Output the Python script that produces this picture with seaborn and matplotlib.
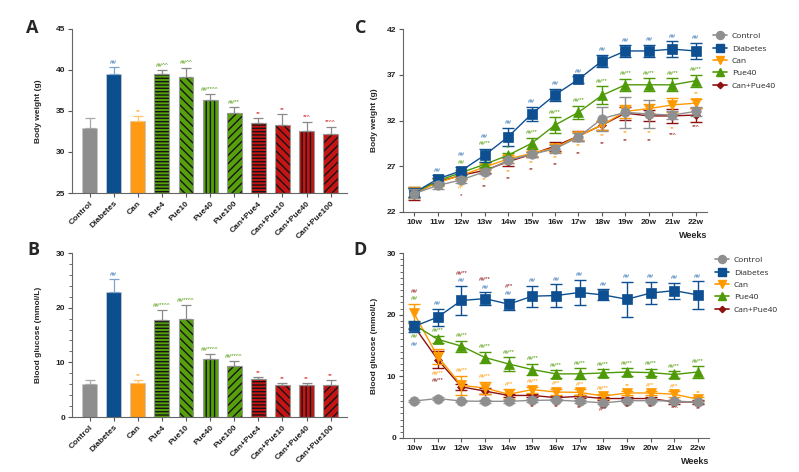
import numpy as np
import pandas as pd
import matplotlib
matplotlib.use("Agg")
import matplotlib.pyplot as plt
from matplotlib.lines import Line2D
from matplotlib.patches import Rectangle
from matplotlib.ticker import MultipleLocator
import seaborn as sns

# ===== Data =====
groups = ['Control', 'Diabetes', 'Can', 'Pue4', 'Pue10', 'Pue40', 'Pue100',
          'Can+Pue4', 'Can+Pue10', 'Can+Pue40', 'Can+Pue100']
weight_mean = [32.9, 39.5, 33.8, 39.5, 39.1, 36.3, 34.7, 33.5, 33.3, 32.6, 32.2]
weight_err = [1.2, 0.9, 0.6, 0.5, 1.2, 0.8, 0.8, 0.6, 1.3, 1.1, 0.8]
weight_sig = ['', '##', '**', '##^^', '##^^', '##**^^', '##**', '**', '**', '**^', '**^^']
glucose_mean = [6.0, 22.9, 6.2, 17.7, 17.9, 10.7, 9.3, 6.9, 5.8, 5.8, 5.8]
glucose_err = [0.8, 2.4, 0.6, 1.9, 2.5, 0.9, 0.9, 0.4, 0.4, 0.4, 1.0]
glucose_sig = ['', '##', '**', '##**^^', '##**^^', '##**^^', '##**^^', '**', '**', '**', '**']

weeks = ['10w', '11w', '12w', '13w', '14w', '15w', '16w', '17w', '18w', '19w', '20w', '21w', '22w']
series = ['Control', 'Diabetes', 'Can', 'Pue40', 'Can+Pue40']

# body weight (g) per week
bw_control = [24.0, 24.9, 25.5, 26.4, 27.65, 28.3, 28.9, 30.2, 32.2, 32.9, 32.7, 32.6, 33.0]
bw_control_err = [0.5, 0.4, 0.3, 0.3, 0.3, 0.3, 0.4, 0.4, 1.3, 1.7, 1.5, 0.4, 0.5]
bw_diabetes = [24.1, 25.6, 26.5, 28.2, 30.2, 32.7, 34.8, 36.5, 38.5, 39.6, 39.6, 39.8, 39.6]
bw_diabetes_err = [0.5, 0.4, 0.4, 0.7, 1.0, 0.8, 0.65, 0.35, 0.7, 0.65, 0.7, 0.85, 0.9]
bw_can = [24.1, 25.2, 26.0, 26.9, 27.8, 28.4, 29.0, 30.3, 31.5, 33.0, 33.3, 33.7, 33.9]
bw_can_err = [0.6, 0.4, 0.4, 0.3, 0.4, 0.3, 0.4, 0.4, 0.5, 0.7, 0.5, 0.8, 0.5]
bw_pue40 = [24.1, 25.4, 26.3, 27.2, 28.2, 29.5, 31.5, 32.9, 34.75, 35.9, 35.9, 35.9, 36.35]
bw_pue40_err = [0.5, 0.3, 0.3, 0.3, 0.3, 0.6, 0.85, 0.7, 1.0, 0.65, 0.7, 0.7, 0.65]
bw_canpue = [24.0, 25.3, 26.0, 26.55, 27.5, 28.3, 29.2, 30.3, 31.5, 32.8, 32.5, 32.5, 32.6]
bw_canpue_err = [0.7, 0.4, 0.4, 0.3, 0.5, 0.3, 0.5, 0.5, 0.5, 0.7, 0.6, 0.8, 0.8]

bw_diabetes_up = [''] + ['##'] * 12
bw_pue40_up = ['', '', '##', '##**', '**', '##**', '##**', '##**', '##**', '##**', '##**', '##**', '##**']
bw_can_up = [''] * 12 + ['**']
bw_can_dn = ['', '', '#*', '**', '**', '**', '**', '**', '**', '**', '**', '**', '']
bw_canpue_dn = ['', '', '*', '**', '**', '**', '**', '**', '**', '**', '**', '**^', '**^']

# blood glucose (mmol/L) per week
bg_control = [6.0, 6.4, 6.0, 5.95, 5.95, 6.1, 6.15, 5.95, 5.7, 6.05, 6.05, 6.0, 5.8]
bg_control_err = [0.2] * 13
bg_diabetes = [18.1, 19.6, 22.3, 22.6, 21.7, 23.0, 23.1, 23.6, 23.2, 22.5, 23.5, 23.9, 23.2]
bg_diabetes_err = [0.85, 1.4, 2.4, 1.0, 0.9, 1.7, 1.8, 2.1, 0.9, 2.8, 1.8, 1.3, 2.2]
bg_can = [20.2, 13.2, 8.55, 8.1, 7.1, 7.85, 7.45, 7.4, 6.8, 7.3, 7.3, 7.1, 6.3]
bg_can_err = [1.55, 1.2, 1.55, 1.0, 0.8, 0.5, 0.5, 0.5, 0.4, 0.4, 0.4, 0.5, 0.3]
bg_pue40 = [18.35, 16.0, 14.9, 13.05, 12.0, 11.1, 10.4, 10.4, 10.55, 10.7, 10.6, 10.3, 10.7]
bg_pue40_err = [0.5, 0.6, 0.9, 0.95, 1.1, 0.95, 0.6, 0.9, 0.6, 0.6, 0.6, 0.5, 0.9]
bg_canpue = [18.1, 12.7, 8.3, 7.6, 6.9, 6.9, 6.55, 6.75, 6.4, 6.4, 6.4, 5.85, 5.85]
bg_canpue_err = [0.5, 1.35, 0.5, 0.5, 0.3, 0.3, 0.3, 0.3, 0.3, 0.3, 0.3, 0.3, 0.3]

bg_diabetes_up = [''] + ['##'] * 12
bg_diabetes_dn = ['##'] + [''] * 12
bg_pue40_up = ['##'] + ['##**'] * 12
bg_pue40_dn = ['##'] + [''] * 12
bg_can_up = ['', '', '##**', '##**', '#**', '##**', '#**', '#**', '##**', '**', '#**', '#**', '**']
bg_can_dn = ['', '##**'] + [''] * 11
bg_canpue_up = ['##', '', '##**', '##**', '#**'] + [''] * 8
bg_canpue_dn = ['', '##**', '', '', '', '**', '**', '**', '#**', '**', '**', '**^', '**']

# ===== Style =====
W, H, DPI = 7.99, 4.72, 100
sns.set_style("ticks")
plt.rcParams['font.family'] = ['Liberation Sans', 'DejaVu Sans']
plt.rcParams['hatch.linewidth'] = 1.0

GRAY, BLUE, ORANGE, GREEN, RED = '#8e8e8e', '#0b4f8f', '#ff9a12', '#56a00c', '#c41414'
DARKRED = '#8e1010'
bar_colors = [GRAY, BLUE, ORANGE] + [GREEN] * 4 + [RED] * 4
sig_colors = [GRAY, '#2a6db0', ORANGE] + ['#4e9a06'] * 4 + ['#d01a1a'] * 4
err_colors = ['#a8a8a8', '#7da6cc', '#ffc36a'] + ['#8a8a8a'] * 8
hatches = [None, None, None, '-----', '\\\\\\\\', '||||', '////',
           '-----', '\\\\\\\\', '||||', '////']
line_colors = {'Control': '#8f8f8f', 'Diabetes': '#0d4f91', 'Can': '#ff9900',
               'Pue40': '#4e9a06', 'Can+Pue40': DARKRED}
line_markers = {'Control': 'o', 'Diabetes': 's', 'Can': 'v', 'Pue40': '^', 'Can+Pue40': 'D'}
marker_sizes = {'Control': 6.8, 'Diabetes': 6.5, 'Can': 6.8, 'Pue40': 6.8, 'Can+Pue40': 3.8}
line_z = {'Control': 6, 'Diabetes': 5, 'Can': 3, 'Pue40': 4, 'Can+Pue40': 2}
stack_rank = ['Control', 'Can', 'Pue40', 'Diabetes', 'Can+Pue40']


def style_axes(ax):
    sns.despine(ax=ax)
    for sp in ['left', 'bottom']:
        ax.spines[sp].set_color('#666666')
        ax.spines[sp].set_linewidth(0.8)
    ax.tick_params(axis='both', which='major', length=3, width=0.8, color='#555555',
                   labelsize=6, pad=2)
    ax.tick_params(axis='y', which='minor', length=2, width=0.6, color='#555555')
    for lab in ax.get_xticklabels() + ax.get_yticklabels():
        lab.set_fontweight('bold')
        lab.set_color('#222222')


def bar_panel(ax, mean, err, sig, ylim, major, minor, ylabel):
    df = pd.DataFrame({'Group': groups, 'Value': mean})
    sns.barplot(data=df, x='Group', y='Value', hue='Group', palette=bar_colors,
                width=0.62, legend=False, ax=ax, linewidth=0.8, saturation=1)
    for p, g, h in zip(ax.patches, groups, hatches):
        if h:
            p.set_edgecolor('#151515')
            p.set_hatch(h)
            p.set_linewidth(0)
            ax.add_patch(Rectangle(p.get_xy(), p.get_width(), p.get_height(),
                                   fill=False, ec='#9a9a9a', lw=0.8, zorder=p.get_zorder()))
        else:
            p.set_edgecolor('#c8c8c8')
            p.set_linewidth(0.6)
    x = np.arange(len(groups))
    for i in x:
        ax.errorbar(i, mean[i], yerr=[[0], [err[i]]], fmt='none', ecolor=err_colors[i],
                    elinewidth=0.9, capsize=3.5, capthick=0.9, zorder=1)
        if sig[i]:
            ax.annotate(sig[i], (i, mean[i] + err[i]), xytext=(0, 1.5), textcoords='offset points',
                        ha='center', va='bottom', fontsize=4.5, color=sig_colors[i])
    ax.set_xlim(-0.73, 10.68)
    ax.set_ylim(*ylim)
    ax.set_yticks(np.arange(ylim[0], ylim[1] + 1e-9, major))
    if minor:
        ax.yaxis.set_minor_locator(MultipleLocator(minor))
    ax.set_xlabel('')
    ax.set_ylabel(ylabel, fontsize=6, fontweight='bold', labelpad=10)
    style_axes(ax)
    plt.setp(ax.get_xticklabels(), rotation=45, ha='right', rotation_mode='anchor')


def line_panel(ax, vals, errs, ups, downs, ylim, major, minor, ylabel):
    x = np.arange(len(weeks))
    long = pd.DataFrame([(xi, s, v) for s in series for xi, v in zip(x, vals[s])],
                        columns=['Week', 'Group', 'Value'])
    sns.lineplot(data=long, x='Week', y='Value', hue='Group', style='Group',
                 hue_order=series, style_order=series, palette=line_colors,
                 markers=line_markers, dashes=False, linewidth=1.0, legend=False, ax=ax)
    for line, s in zip(ax.lines[:len(series)], series):
        line.set_markersize(marker_sizes[s])
        line.set_markeredgecolor(line_colors[s])
        line.set_markeredgewidth(0.5)
        line.set_zorder(line_z[s])
    for s in series:
        ax.errorbar(x, vals[s], yerr=errs[s], fmt='none', ecolor=line_colors[s],
                    elinewidth=1.0, capsize=4.5, capthick=1.0, zorder=line_z[s] - 0.5)
    ax.set_xlim(-0.47, 12.47)
    ax.set_ylim(*ylim)
    ax.set_xticks(x)
    ax.set_xticklabels(weeks)
    ax.set_yticks(np.arange(ylim[0], ylim[1] + 1e-9, major))
    if minor:
        ax.yaxis.set_minor_locator(MultipleLocator(minor))
    ax.set_xlabel('Weeks', fontsize=6.5, fontweight='bold', loc='right', labelpad=4)
    ax.set_ylabel(ylabel, fontsize=6, fontweight='bold', labelpad=6)
    style_axes(ax)

    # significance marks, stacked away from the curves
    upp = (ylim[1] - ylim[0]) / (ax.get_position().height * H * DPI)
    gap, step, window = 2.5 * upp, 7.5 * upp, 12 * upp
    for i in x:
        for sign, table in [(1, ups), (-1, downs)]:
            items = [s for s in stack_rank if s in table and table[s][i]]
            running = None
            for s in items:
                v = vals[s][i]
                near = [t for t in series if abs(vals[t][i] - v) <= window]
                if sign > 0:
                    anchor = max(vals[t][i] + errs[t][i] for t in near) + gap
                    pos = anchor if running is None else max(anchor, running + step)
                else:
                    anchor = min(vals[t][i] - errs[t][i] for t in near) - gap
                    pos = anchor if running is None else min(anchor, running - step)
                running = pos
                col = line_colors[s] if s != 'Diabetes' else '#2a6db0'
                ax.text(i, pos, table[s][i], ha='center', va='bottom' if sign > 0 else 'top',
                        fontsize=4.5, color=col, zorder=8)

    handles = [Line2D([], [], color=line_colors[s], marker=line_markers[s],
                      markersize=marker_sizes[s] * 0.85, lw=1.2) for s in series]
    ax.legend(handles, series, loc='upper left', bbox_to_anchor=(1.01, 1.0), frameon=False,
              prop={'family': 'Open Sans', 'size': 6}, handlelength=1.6, handletextpad=0.6,
              labelspacing=0.55, borderaxespad=0)


# ===== Figure =====
fig = plt.figure(figsize=(W, H), dpi=DPI)
axA = fig.add_axes([72 / 799, 1 - 193 / 472, 275 / 799, 164 / 472])
axB = fig.add_axes([72 / 799, 1 - 417 / 472, 275 / 799, 164 / 472])
axC = fig.add_axes([403 / 799, 1 - 212 / 472, 304 / 799, 183 / 472])
axD = fig.add_axes([403 / 799, 1 - 438 / 472, 306 / 799, 185 / 472])

bar_panel(axA, weight_mean, weight_err, weight_sig, (25, 45), 5, None, 'Body weight (g)')
bar_panel(axB, glucose_mean, glucose_err, glucose_sig, (0, 30), 10, 2, 'Blood glucose (mmol/L)')

bw_vals = {'Control': bw_control, 'Diabetes': bw_diabetes, 'Can': bw_can,
           'Pue40': bw_pue40, 'Can+Pue40': bw_canpue}
bw_errs = {'Control': bw_control_err, 'Diabetes': bw_diabetes_err, 'Can': bw_can_err,
           'Pue40': bw_pue40_err, 'Can+Pue40': bw_canpue_err}
line_panel(axC, bw_vals, bw_errs,
           {'Diabetes': bw_diabetes_up, 'Pue40': bw_pue40_up, 'Can': bw_can_up},
           {'Can': bw_can_dn, 'Can+Pue40': bw_canpue_dn},
           (22, 42), 5, None, 'Body weight (g)')

bg_vals = {'Control': bg_control, 'Diabetes': bg_diabetes, 'Can': bg_can,
           'Pue40': bg_pue40, 'Can+Pue40': bg_canpue}
bg_errs = {'Control': bg_control_err, 'Diabetes': bg_diabetes_err, 'Can': bg_can_err,
           'Pue40': bg_pue40_err, 'Can+Pue40': bg_canpue_err}
line_panel(axD, bg_vals, bg_errs,
           {'Diabetes': bg_diabetes_up, 'Pue40': bg_pue40_up, 'Can': bg_can_up,
            'Can+Pue40': bg_canpue_up},
           {'Diabetes': bg_diabetes_dn, 'Pue40': bg_pue40_dn, 'Can': bg_can_dn,
            'Can+Pue40': bg_canpue_dn},
           (0, 30), 10, 1, 'Blood glucose (mmol/L)')

for letter, (px, py) in {'A': (32, 28), 'B': (33, 250), 'C': (361, 28), 'D': (360, 250)}.items():
    fig.text(px / 799, 1 - py / 472, letter, ha='center', va='center', fontsize=13,
             fontweight='bold', family='Open Sans')

fig.savefig('out.png', dpi=DPI)
